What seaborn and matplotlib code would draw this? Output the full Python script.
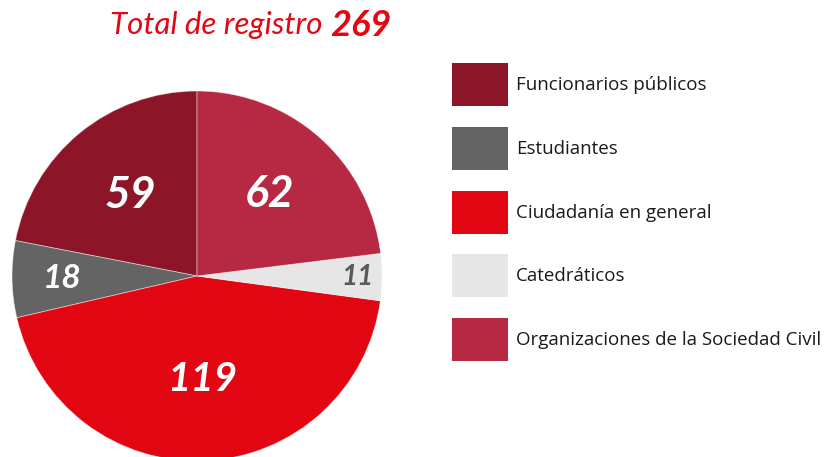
import matplotlib
matplotlib.use("Agg")
import matplotlib.pyplot as plt
from matplotlib.patches import Patch
import numpy as np
import seaborn as sns

# data
categories = ["Funcionarios públicos", "Estudiantes", "Ciudadanía en general",
              "Catedráticos", "Organizaciones de la Sociedad Civil"]
values = [59, 18, 119, 11, 62]
total = sum(values)

colors = ["#8C1628", "#646464", "#E20613", "#E6E6E6", "#B72942"]
label_colors = ["white", "white", "white", "#5a5a5a", "white"]
label_radius = [0.57, 0.73, 0.56, 0.87, 0.59]
label_sizes = [32, 24, 29, 20, 32]

sns.set_theme(style="white")
plt.rcParams['font.family'] = ['Lato', 'DejaVu Sans']

W, H = 833, 457
fig = plt.figure(figsize=(W / 100, H / 100), dpi=100)

# pie axes: center (197, 276) px, radius 185 px
cx, cy, r = 197, 276, 185
ax = fig.add_axes([(cx - r) / W, (H - cy - r) / H, 2 * r / W, 2 * r / H])
wedges, _ = ax.pie(values, colors=colors, startangle=90, radius=1,
                   wedgeprops=dict(edgecolor=(1, 1, 1, 0.5), linewidth=0.6))
ax.set_xlim(-1, 1)
ax.set_ylim(-1, 1)
ax.set_aspect("equal")
ax.axis("off")

for w, v, rr, c, s in zip(wedges, values, label_radius, label_colors, label_sizes):
    ang = np.deg2rad((w.theta1 + w.theta2) / 2)
    ax.text(rr * np.cos(ang), rr * np.sin(ang), str(v), ha="center", va="center",
            color=c, fontsize=s, fontstyle="italic", fontweight="bold")

# title
red = "#E30613"
t1 = fig.text(110 / W, 1 - 25 / H, "Total de registro ", color=red, fontsize=22.5,
              fontstyle="italic", ha="left", va="center")
fig.canvas.draw()
bb = t1.get_window_extent()
fig.text(bb.x1 / W, 1 - 25 / H, str(total), color=red, fontsize=26,
         fontstyle="italic", fontweight="bold", ha="left", va="center")

# legend
handles = [Patch(facecolor=c, edgecolor="none") for c in colors]
fs = 13.5
fpx = fs * 100 / 72
hh = (43 / fpx - 0.245) / 0.65
leg = fig.legend(handles, categories, loc="upper left",
                 bbox_to_anchor=(452 / W, 1 - 63 / H), bbox_transform=fig.transFigure,
                 frameon=False, handlelength=56 / fpx, handleheight=hh,
                 handletextpad=8 / fpx, labelspacing=20.8 / fpx,
                 borderpad=0, borderaxespad=0,
                 prop={"family": ["Open Sans", "DejaVu Sans"], "size": fs})
for t in leg.get_texts():
    t.set_color("#1a1a1a")

fig.savefig("out.png", dpi=100, facecolor="white")
